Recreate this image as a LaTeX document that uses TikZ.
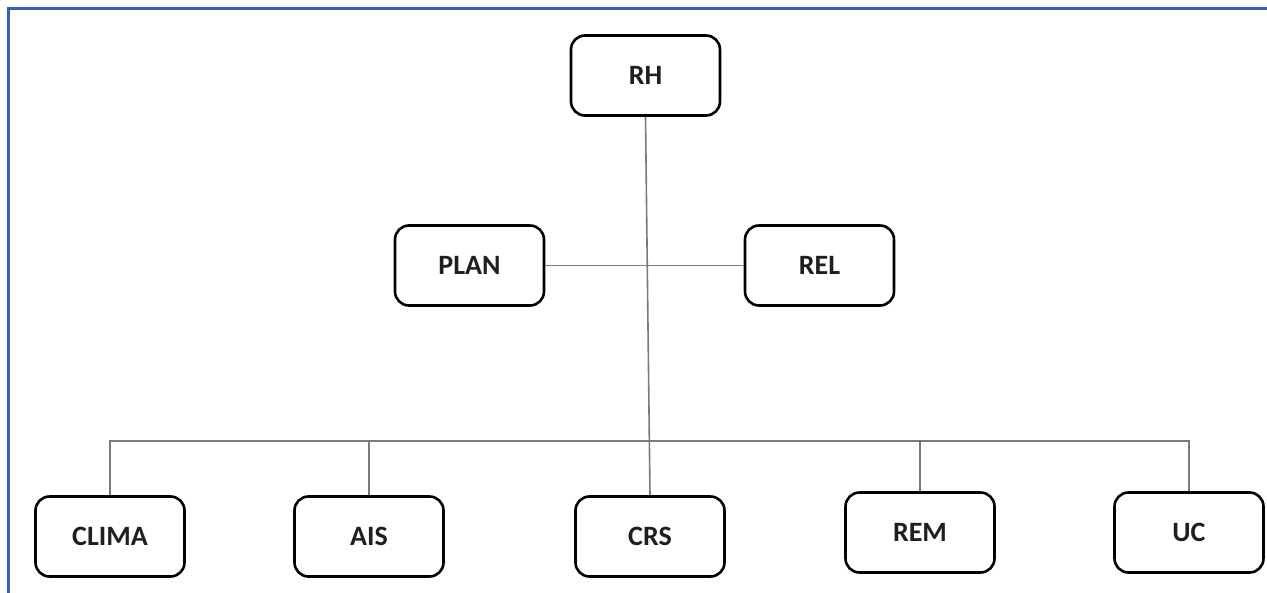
\documentclass[tikz,border=0pt]{standalone}
\usepackage{fontspec}
\setmainfont{Carlito}
\begin{document}
\begin{tikzpicture}[x=1pt,y=-1pt,
  box/.style={draw=black, line width=2.6pt, rounded corners=14pt, fill=white,
    minimum width=149pt, minimum height=80pt, inner sep=0pt, text=black!88,
    font=\bfseries\fontsize{28}{32}\selectfont},
  conn/.style={draw=black!52, line width=1.6pt},
  frameline/.style={draw={rgb,255:red,59;green,93;blue,190}, line width=3pt}]
\useasboundingbox (0,0) rectangle (1267,593);
\fill[white] (0,0) rectangle (1267,593);
\draw[frameline] (8.5,593) -- (8.5,8.5) -- (1267,8.5);
% nodes
\node[box] (RH) at (645.5,75.5) {RH};
\node[box] (PLAN) at (469.5,265.5) {PLAN};
\node[box] (REL) at (819.5,265.5) {REL};
\node[box] (CLIMA) at (110,536.5) {CLIMA};
\node[box] (AIS) at (369,536.5) {AIS};
\node[box] (CRS) at (650,536.5) {CRS};
\node[box] (REM) at (920,532.5) {REM};
\node[box] (UC) at (1189,532.5) {UC};
\coordinate (bus) at (0,441);
% connectors
\draw[conn] (RH.south) -- (CRS.north);
\draw[conn] (PLAN.east) -- (REL.west);
\draw[conn] (CLIMA.north) -- (CLIMA.north |- bus) -- (UC.north |- bus) -- (UC.north);
\draw[conn] (AIS.north) -- (AIS.north |- bus);
\draw[conn] (REM.north) -- (REM.north |- bus);
\end{tikzpicture}
\end{document}
